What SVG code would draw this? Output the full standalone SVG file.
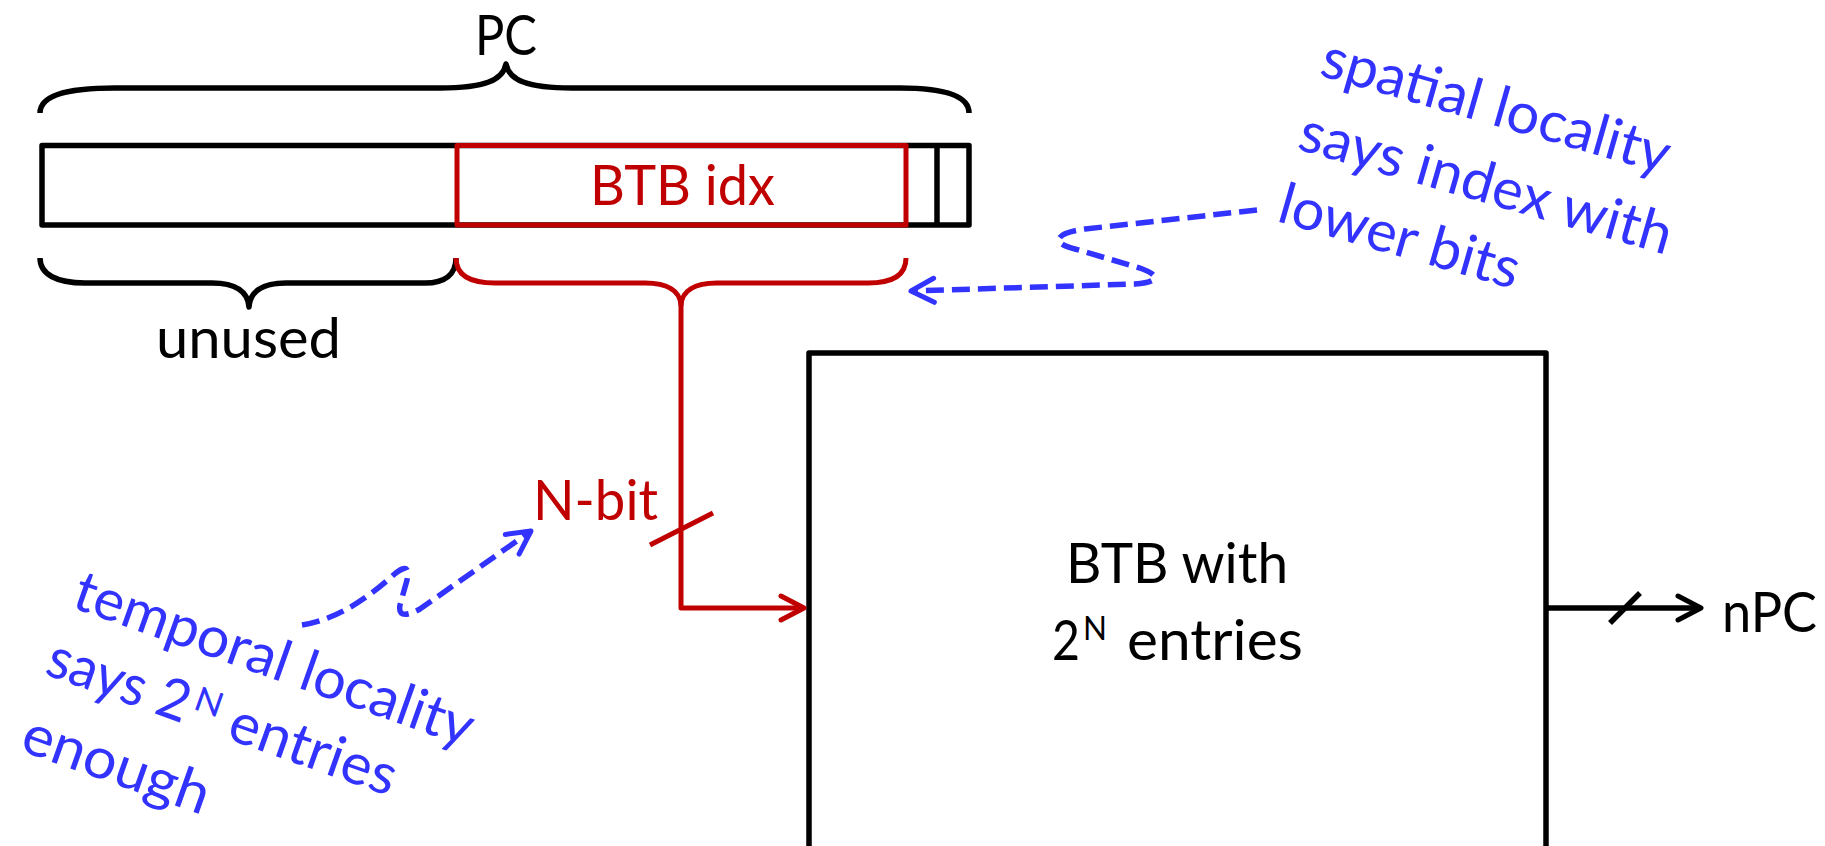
<svg xmlns="http://www.w3.org/2000/svg" width="1825" height="846" viewBox="0 0 1825 846">
  <style>
    .t { font-family: Lato, "Liberation Sans", sans-serif; font-size: 57px; }
    .blk { fill: #000; }
    .red { fill: #C00000; }
    .blu { fill: #3333FF; }
    .sb { fill: none; stroke: #000; stroke-width: 5.5; stroke-linejoin: round; }
    .sr { fill: none; stroke: #C00000; stroke-width: 5; stroke-linejoin: round; }
    .sd { fill: none; stroke: #3333FF; stroke-width: 5.5; stroke-dasharray: 18 8; }
    .mk { fill: none; stroke-width: 5; stroke-linecap: round; stroke-linejoin: round; stroke-dasharray: none; }
  </style>
  <defs>
    <marker id="arrRed" markerUnits="userSpaceOnUse" viewBox="-28 -16 32 32" markerWidth="32" markerHeight="32" refX="0" refY="0" orient="auto">
      <path class="mk" stroke="#C00000" d="M-23,-12 L0,0 L-23,12"/>
    </marker>
    <marker id="arrBlk" markerUnits="userSpaceOnUse" viewBox="-28 -16 32 32" markerWidth="32" markerHeight="32" refX="0" refY="0" orient="auto">
      <path class="mk" stroke="#000" d="M-23,-12 L0,0 L-23,12"/>
    </marker>
    <marker id="arrBlu" markerUnits="userSpaceOnUse" viewBox="-28 -16 32 32" markerWidth="32" markerHeight="32" refX="0" refY="0" orient="auto">
      <path class="mk" stroke="#3333FF" d="M-23,-12 L0,0 L-23,12"/>
    </marker>
  </defs>

  <g id="pc-register">
    <rect class="sb" x="42" y="145.5" width="927" height="79.5"/>
    <line class="sb" x1="937" y1="145.5" x2="937" y2="225"/>
    <rect class="sr" x="457" y="145.5" width="449" height="79.5"/>
    <text class="t red" x="590" y="205" textLength="185" lengthAdjust="spacingAndGlyphs">BTB idx</text>
  </g>

  <g id="pc-brace">
    <path class="sb" d="M40,113 C40,97 62,88 115,88 L440,88 C485,88 503,80 506,64 C509,80 527,88 572,88 L900,88 C948,88 969,97 969,113"/>
    <text class="t blk" x="475" y="55" textLength="62" lengthAdjust="spacingAndGlyphs">PC</text>
  </g>

  <g id="unused-brace">
    <path class="sb" d="M40,258 C40,274 56,283 85,283 L212,283 C236,283 248,292 249,307 C250,292 262,283 286,283 L425,283 C445,283 456,274 456,258"/>
    <text class="t blk" x="156" y="358" textLength="185" lengthAdjust="spacingAndGlyphs">unused</text>
  </g>

  <g id="idx-brace">
    <path class="sr" d="M456,258 C456,274 468,283 495,283 L645,283 C668,283 680,291 681,305 C682,291 694,283 717,283 L868,283 C894,283 906,274 906,258"/>
  </g>

  <g id="btb">
    <rect class="sb" x="809" y="353" width="737" height="560"/>
    <text class="t blk" x="1066" y="583" textLength="222" lengthAdjust="spacingAndGlyphs">BTB with</text>
    <text class="t blk" x="1052" y="660" textLength="28" lengthAdjust="spacingAndGlyphs">2</text>
    <text class="t blk" x="1083" y="640" style="font-size:33px" textLength="24" lengthAdjust="spacingAndGlyphs">N</text>
    <text class="t blk" x="1127" y="660" textLength="176" lengthAdjust="spacingAndGlyphs">entries</text>
  </g>

  <g id="npc">
    <text class="t blk" x="1722" y="632" textLength="95" lengthAdjust="spacingAndGlyphs">nPC</text>
  </g>

  <g id="nbit">
    <text class="t red" x="533" y="520" textLength="125" lengthAdjust="spacingAndGlyphs">N-bit</text>
  </g>

  <g id="connectors">
    <path class="sr" d="M681,300 L681,608 L804,608" marker-end="url(#arrRed)"/>
    <line class="sr" x1="650" y1="545" x2="713" y2="513"/>
    <path class="sb" d="M1548,608 L1701,608" marker-end="url(#arrBlk)"/>
    <line class="sb" x1="1610" y1="623" x2="1640" y2="593"/>
    <path class="sd" d="M1257,210 L1085,229 C1055,233 1050,243 1075,249 L1140,268 C1162,276 1158,282 1135,284 L911,291" marker-end="url(#arrBlu)"/>
    <path class="sd" d="M302,625 C335,620 365,600 390,578 C403,566 410,564 407,580 L400,605 C398,616 405,617 420,609 L531,531" marker-end="url(#arrBlu)"/>
  </g>

  <g id="spatial-note" transform="translate(1318,75) rotate(16)">
    <text class="t blu" x="0" y="0" textLength="360" lengthAdjust="spacingAndGlyphs">spatial locality</text>
    <text class="t blu" x="-1" y="77" textLength="385" lengthAdjust="spacingAndGlyphs">says index with</text>
    <text class="t blu" x="-1" y="152" textLength="248" lengthAdjust="spacingAndGlyphs">lower bits</text>
  </g>

  <g id="temporal-note" transform="translate(70,607) rotate(19.5)">
    <text class="t blu" x="0" y="0" textLength="420" lengthAdjust="spacingAndGlyphs">temporal locality</text>
    <text class="t blu" x="-3" y="72" textLength="148" lengthAdjust="spacingAndGlyphs">says 2</text>
    <text class="t blu" x="149" y="55" style="font-size:34px" textLength="28" lengthAdjust="spacingAndGlyphs">N</text>
    <text class="t blu" x="190" y="72" textLength="174" lengthAdjust="spacingAndGlyphs">entries</text>
    <text class="t blu" x="-1" y="152" textLength="195" lengthAdjust="spacingAndGlyphs">enough</text>
  </g>
</svg>
